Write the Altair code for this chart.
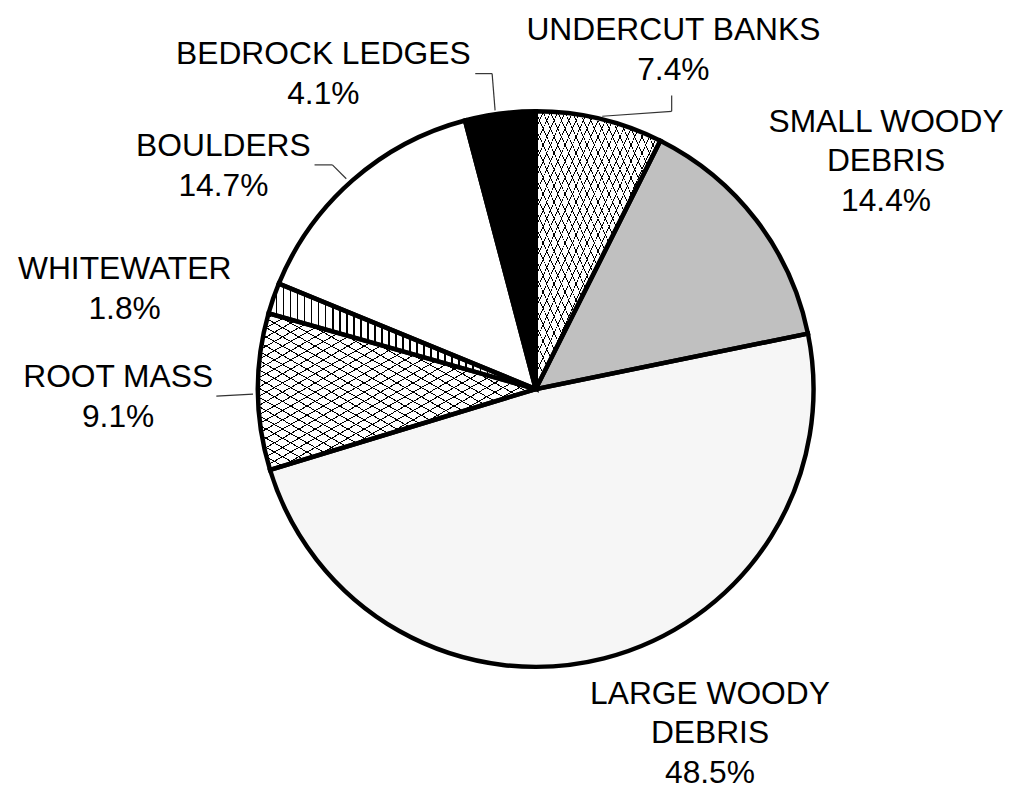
import altair as alt
import pandas as pd

# ---- data ----
categories = ["UNDERCUT BANKS", "SMALL WOODY DEBRIS", "LARGE WOODY DEBRIS",
              "ROOT MASS", "WHITEWATER", "BOULDERS", "BEDROCK LEDGES"]
display_names = ["UNDERCUT BANKS", "SMALL WOODY\nDEBRIS", "LARGE WOODY\nDEBRIS",
                 "ROOT MASS", "WHITEWATER", "BOULDERS", "BEDROCK LEDGES"]
percents = [7.4, 14.4, 48.5, 9.1, 1.8, 14.7, 4.1]

df = pd.DataFrame({
    "cat": categories,
    "name": display_names,
    "pct": percents,
    "idx": list(range(len(categories))),
})

# ---- styling helpers ----
CX, CY, R = 532, 381, 280
FONT = "Liberation Sans"


def stripes(n, frac, x1, y1, x2, y2, color="black", bg="white"):
    stops = []
    for k in range(n):
        a = k / n
        b = (k + frac) / n
        c = (k + 1) / n
        stops += [{"offset": round(a, 5), "color": color},
                  {"offset": round(b, 5), "color": color},
                  {"offset": round(b, 5), "color": bg},
                  {"offset": round(min(c, 1.0), 5), "color": bg}]
    return {"gradient": "linear", "x1": x1, "y1": y1, "x2": x2, "y2": y2, "stops": stops}


hatch_a = stripes(34, 0.12, 0, 0, 1, 1)
hatch_b = stripes(34, 0.12, 1, 0, 0, 1, bg="rgba(255,255,255,0)")
vstripes = stripes(38, 0.24, 0, 0, 1, 0)

theta_scale = alt.Scale(domain=[0, 100], range=[0, 6.283185307179586])

base = alt.Chart(df).transform_window(
    cum="sum(pct)", sort=[alt.SortField("idx")], frame=[None, 0]
).transform_calculate(
    t0="datum.cum - datum.pct",
    tm="datum.cum - datum.pct / 2",
    label="datum.name + '\\n' + format(datum.pct, '.1f') + '%'",
)

is_cat = lambda c: alt.datum.cat == c

fill_main = (
    alt.when(is_cat("UNDERCUT BANKS")).then(alt.value(hatch_a))
    .when(is_cat("ROOT MASS")).then(alt.value(hatch_a))
    .when(is_cat("SMALL WOODY DEBRIS")).then(alt.value("#c0c0c0"))
    .when(is_cat("LARGE WOODY DEBRIS")).then(alt.value("#f6f6f6"))
    .when(is_cat("WHITEWATER")).then(alt.value(vstripes))
    .when(is_cat("BEDROCK LEDGES")).then(alt.value("#000000"))
    .otherwise(alt.value("#ffffff"))
)

fill_over = (
    alt.when(is_cat("UNDERCUT BANKS")).then(alt.value(hatch_b))
    .when(is_cat("ROOT MASS")).then(alt.value(hatch_b))
    .otherwise(alt.value("transparent"))
)

arc_enc = dict(
    theta=alt.Theta("t0:Q", scale=theta_scale),
    theta2="cum:Q",
    x=alt.value(CX),
    y=alt.value(CY),
)

arcs = base.mark_arc(outerRadius=R, strokeWidth=0).encode(fill=fill_main, **arc_enc)
arcs_over = base.mark_arc(outerRadius=R, strokeWidth=0).encode(fill=fill_over, **arc_enc)
outline = base.mark_arc(outerRadius=R, stroke="black", strokeWidth=4.5,
                        strokeJoin="miter", fillOpacity=0).encode(fill=alt.value("white"), **arc_enc)

# label offsets (style): per category dx, dy from a ring of radius 320
offsets = {
    "UNDERCUT BANKS": (65, -50),
    "SMALL WOODY DEBRIS": (99, -75),
    "LARGE WOODY DEBRIS": (97, -3),
    "ROOT MASS": (-101, -15),
    "WHITEWATER": (-112, -16),
    "BOULDERS": (-104, -4),
    "BEDROCK LEDGES": (-173, -20),
}

texts = []
for c in categories:
    dx, dy = offsets[c]
    texts.append(
        base.transform_filter(alt.datum.cat == c).mark_text(
            radius=320, dx=dx, dy=dy, fontSize=32, font=FONT,
            lineBreak="\n", lineHeight=40, align="center", baseline="middle",
            color="black",
        ).encode(
            theta=alt.Theta("tm:Q", scale=theta_scale),
            text="label:N",
            x=alt.value(CX), y=alt.value(CY),
        )
    )

# leader lines (annotation)
one = alt.Data(values=[{"k": 0}])
segments = [
    (669, 85, 669, 101), (669, 101, 599, 106),   # undercut banks
    (471, 63, 488, 63), (488, 63, 491, 100),     # bedrock ledges
    (309, 155, 327, 155), (327, 155, 341, 169),  # boulders
    (210, 388, 247, 386),                         # root mass
]
leaders = [
    alt.Chart(one).mark_rule(color="#333333", strokeWidth=1.2).encode(
        x=alt.value(a), y=alt.value(b), x2=alt.value(c), y2=alt.value(d))
    for a, b, c, d in segments
]

chart = alt.layer(arcs, arcs_over, outline, *leaders, *texts).properties(
    width=990, height=770, padding=0
).configure_view(stroke=None)

chart.save("out.html", embed_options={"renderer": "svg", "actions": False})
